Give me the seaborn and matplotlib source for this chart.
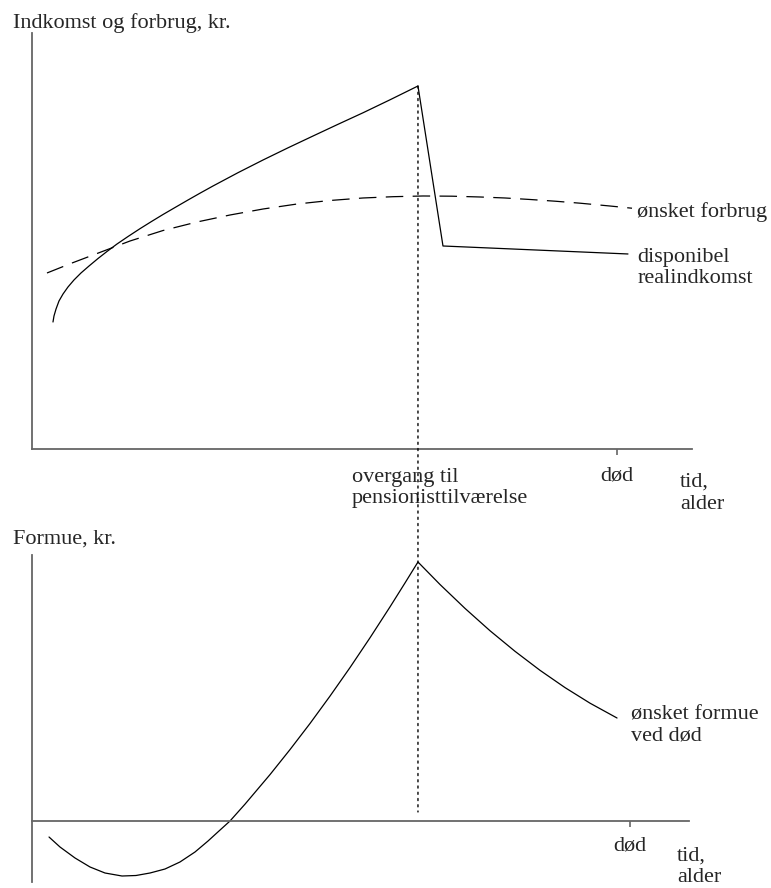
import matplotlib.pyplot as plt
import seaborn as sns
from matplotlib.patches import ConnectionPatch

# ---- data (abstract units, time 0-100) ----
# top panel: disposable real income (drops at retirement) and desired consumption
indkomst_t = [3.18, 3.33, 3.64, 4.09, 4.70, 5.45, 6.36, 7.42, 8.64, 10.0, 11.36, 12.88, 14.55,
              16.36, 18.18, 19.85, 21.67, 23.64, 25.45, 27.42, 31.21, 35.0, 38.79, 42.58,
              46.36, 50.15, 54.24, 58.48, 62.27, 90.3]
indkomst = [30.53, 31.97, 33.65, 35.58, 37.26, 38.94, 40.63, 42.31, 43.99, 45.79, 47.48, 49.28,
            51.08, 52.96, 54.76, 56.37, 58.05, 59.86, 61.49, 63.22, 66.42, 69.47, 72.40,
            75.24, 78.05, 80.82, 83.94, 87.26, 48.80, 46.88]
forbrug_t = [2.27, 6.06, 9.85, 14.85, 19.85, 25.0, 30.0, 35.0, 40.15, 45.15, 50.15, 54.7,
             59.24, 63.64, 67.88, 71.67, 75.45, 79.24, 83.03, 87.58, 90.91]
forbrug = [42.31, 44.71, 46.99, 50.0, 52.52, 54.57, 56.25, 57.69, 58.89, 59.74, 60.34, 60.65,
           60.82, 60.77, 60.58, 60.34, 59.98, 59.57, 59.09, 58.41, 57.88]

# bottom panel: wealth
formue_t = [2.58, 4.24, 6.52, 8.79, 11.06, 13.64, 15.76, 17.88, 20.15, 22.42, 24.70, 26.67,
            28.33, 30.0, 32.27, 36.06, 39.09, 42.12, 45.15, 48.18, 51.21, 54.24, 56.52, 58.48,
            61.82, 65.61, 69.39, 73.18, 76.97, 80.76, 84.55, 88.64]
formue = [-6.02, -9.77, -13.91, -17.29, -19.55, -20.68, -20.49, -19.55, -18.05, -15.41, -11.65,
          -7.52, -3.76, 0.0, 6.32, 17.44, 26.84, 36.65, 46.95, 57.67, 68.87, 80.49, 89.51,
          97.37, 88.91, 79.92, 71.54, 63.80, 56.65, 50.15, 44.29, 38.72]

pension_t = 58.48
doed_top = 88.6
doed_bottom = 90.6

sns.set_theme(style="white")
plt.rcParams['font.family'] = ['Liberation Serif', 'DejaVu Serif']
FS = 16
AX_COL = '#666666'

fig = plt.figure(figsize=(7.71, 8.88), dpi=100)
ax1 = fig.add_axes([32 / 771, 1 - 449 / 888, 660 / 771, 416 / 888])
ax2 = fig.add_axes([32 / 771, 1 - 882 / 888, 657 / 771, 327 / 888])

# ---- top panel ----
sns.lineplot(x=indkomst_t, y=indkomst, ax=ax1, color='black', lw=0.9, sort=False, errorbar=None)
sns.lineplot(x=forbrug_t, y=forbrug, ax=ax1, color='black', lw=0.9, sort=False, errorbar=None,
             linestyle=(0, (14, 7.5)))
ax1.set_xlim(0, 100)
ax1.set_ylim(0, 100)

ax1.text(91.7, 55.8, "ønsket forbrug", fontsize=FS, va='baseline', ha='left', clip_on=False)
ax1.text(91.7, 45.0, "disponibel", fontsize=FS, va='baseline', ha='left', clip_on=False)
ax1.text(91.7, 39.9, "realindkomst", fontsize=FS, va='baseline', ha='left', clip_on=False)
ax1.text(48.5, -7.9, "overgang til", fontsize=FS, va='baseline', ha='left', clip_on=False)
ax1.text(48.5, -13.0, "pensionisttilværelse", fontsize=FS, va='baseline', ha='left', clip_on=False)
ax1.text(98.2, -9.1, "tid,", fontsize=FS, va='baseline', ha='left', clip_on=False)
ax1.text(98.2, -14.4, "alder", fontsize=FS, va='baseline', ha='left', clip_on=False)

# ---- bottom panel ----
sns.lineplot(x=formue_t, y=formue, ax=ax2, color='black', lw=0.9, sort=False, errorbar=None)
ax2.set_xlim(0, 657 / 6.6)
ax2.set_ylim(-61 / 2.66, 100)
ax2.spines['bottom'].set_position(('data', 0))

ax2.text(90.8, 38.0, "ønsket formue", fontsize=FS, va='baseline', ha='left', clip_on=False)
ax2.text(90.8, 30.1, "ved død", fontsize=FS, va='baseline', ha='left', clip_on=False)
ax2.text(97.7, -14.7, "tid,", fontsize=FS, va='baseline', ha='left', clip_on=False)
ax2.text(97.7, -22.9, "alder", fontsize=FS, va='baseline', ha='left', clip_on=False)

# axes styling: only left and bottom lines, one tick at "død"
for ax, doed, pad in [(ax1, doed_top, 8), (ax2, doed_bottom, 7)]:
    for s in ['top', 'right']:
        ax.spines[s].set_visible(False)
    for s in ['left', 'bottom']:
        ax.spines[s].set_color(AX_COL)
        ax.spines[s].set_linewidth(1.3)
    ax.set_yticks([])
    ax.set_xticks([doed], ['død'], fontsize=FS)
    ax.tick_params(axis='x', bottom=True, direction='out', length=4.5, width=1.2,
                   color=AX_COL, pad=pad, labelsize=FS)
    ax.set_xlabel('')
    ax.set_ylabel('')
    ax.patch.set_alpha(0)

# dotted line marking the transition to retirement, through both panels
con = ConnectionPatch(xyA=(pension_t, 87.26), coordsA=ax1.transData,
                      xyB=(pension_t, 3.4), coordsB=ax2.transData,
                      color='black', lw=1.0, linestyle=(0, (1.5, 3)),
                      shrinkA=0, shrinkB=0)
fig.add_artist(con)

fig.text(13 / 771, 1 - 28 / 888, "Indkomst og forbrug, kr.", fontsize=FS, va='baseline', ha='left')
fig.text(13 / 771, 1 - 544 / 888, "Formue, kr.", fontsize=FS, va='baseline', ha='left')

fig.savefig("out.png", dpi=100, facecolor='white')
